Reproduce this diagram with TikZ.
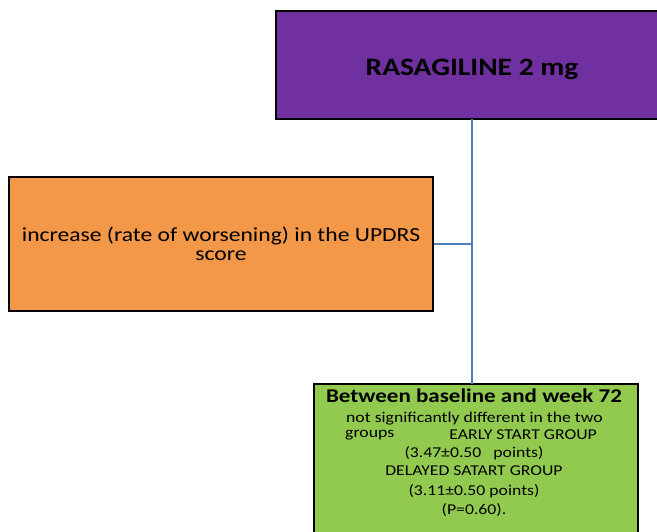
\documentclass[tikz,border=0pt]{standalone}
\usepackage{fontspec}
\setmainfont{Carlito}
\definecolor{purp}{HTML}{7030A0}
\definecolor{orng}{HTML}{F39849}
\definecolor{grn}{HTML}{92CA50}
\definecolor{lnblue}{HTML}{4F81BD}
\newcommand{\wx}[1]{\scalebox{1.18}[1]{#1}}
\tikzset{
  boxstyle/.style={draw=black, line width=2pt, inner sep=0pt},
  conn/.style={draw=lnblue, line width=1.5pt},
  body/.style={font=\fontsize{15}{17}\selectfont, inner sep=0pt},
}
\begin{document}
\begin{tikzpicture}[x=1pt,y=-1pt]
\useasboundingbox (0,0) rectangle (657,531);
\clip (0,0) rectangle (657,531);
\node[boxstyle, fill=purp, minimum width=392pt, minimum height=108pt] (drug) at (472,65) {};
\node[font=\fontsize{25}{28}\selectfont\bfseries, inner sep=0pt] (drugt) at (472,69) {\wx{RASAGILINE 2 mg}};
\node[boxstyle, fill=orng, minimum width=424pt, minimum height=134pt] (upd) at (221,244) {};
\node[font=\fontsize{20}{22}\selectfont, inner sep=0pt] (updt1) at (221,236) {\wx{increase (rate of worsening) in the UPDRS}};
\node[font=\fontsize{20}{22}\selectfont, inner sep=0pt] (updt2) at (221,256) {\wx{score}};
\node[boxstyle, fill=grn, minimum width=324pt, minimum height=180pt] (res) at (476,474) {};
\node[font=\fontsize{19.5}{21}\selectfont\bfseries, inner sep=0pt] (rest1) at (474,396) {\wx{Between baseline and week 72}};
\node[body, anchor=west] (rest2) at (346,419) {\wx{not significantly different in the two}};
\node[body, anchor=west] (rest2b) at (345,435) {\wx{groups}};
\node[body, anchor=east] (rest2c) at (597,435) {\wx{EARLY START GROUP}};
\node[body] (rest3) at (474,453) {\wx{(3.47±0.50\ \ \ points)}};
\node[body] (rest4) at (474,471) {\wx{DELAYED SATART GROUP}};
\node[body] (rest5) at (474,491) {\wx{(3.11±0.50 points)}};
\node[body] (rest6) at (474,510) {\wx{(P=0.60).}};
\coordinate (j) at (472,244);
\draw[conn] (472,119) -- (472,384);
\draw[conn] (upd.east) -- (j);
\end{tikzpicture}
\end{document}
